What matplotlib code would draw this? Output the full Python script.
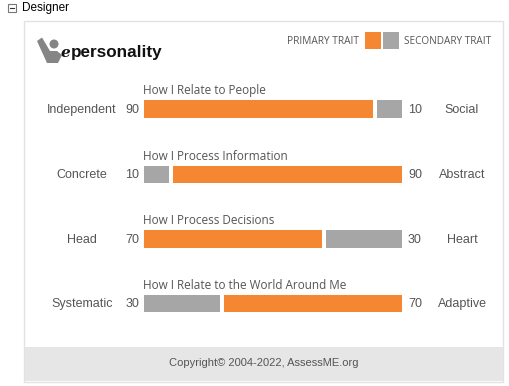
import matplotlib
matplotlib.use("Agg")
import matplotlib.pyplot as plt
from matplotlib.patches import Rectangle, Polygon, Circle

# ---- data ----
titles = ["How I Relate to People", "How I Process Information",
          "How I Process Decisions", "How I Relate to the World Around Me"]
left_labels = ["Independent", "Concrete", "Head", "Systematic"]
right_labels = ["Social", "Abstract", "Heart", "Adaptive"]
left_values = [90, 10, 70, 30]
right_values = [10, 90, 30, 70]
legend_labels = ["PRIMARY TRAIT", "SECONDARY TRAIT"]

ORANGE = "#f58733"
GRAY = "#a6a6a6"
TXT = "#555555"

W, H = 510, 386
fig = plt.figure(figsize=(W / 100, H / 100), dpi=100)
ax = fig.add_axes([0, 0, 1, 1])
ax.set_xlim(0, W)
ax.set_ylim(H, 0)
ax.axis("off")

# header
ax.add_patch(Rectangle((8, 4), 8, 8, fill=False, ec="#777777", lw=0.8))
ax.plot([10, 14], [8, 8], color="#333333", lw=0.8)
ax.text(22, 8, "Designer", fontsize=8.5, family="Liberation Sans", color="#000000",
        va="center", ha="left")

# panel
ax.add_patch(Rectangle((24.5, 20.5), 479, 361, fill=False, ec="#e2e2e2", lw=1))
ax.add_patch(Rectangle((25, 347), 478, 34, fc="#e6e6e6", ec="none"))
ax.text(263.5, 363, "Copyright\u00a9 2004-2022, AssessME.org", fontsize=8,
        family="Liberation Sans", color=TXT, ha="center", va="center")

# logo
ax.add_patch(Polygon([(37, 41), (42, 37.5), (50, 51), (57, 51), (62, 55), (58, 63), (47, 63)],
                     closed=True, fc="#858585", ec="none"))
ax.add_patch(Circle((54, 44), 4.5, fc="#858585", ec="none"))
ax.text(60.5, 53, "e", fontsize=11, style="italic", weight="bold", family="DejaVu Serif",
        color="#111111", va="center", ha="left")
ax.text(70.5, 52.5, "personality", fontsize=12.3, weight="bold", family="Liberation Sans",
        color="#111111", va="center", ha="left")

# legend
ax.text(359, 41, legend_labels[0], fontsize=7.3, family="Open Sans", color=TXT,
        ha="right", va="center")
ax.add_patch(Rectangle((365, 32), 16.5, 17, fc=ORANGE, ec="none"))
ax.add_patch(Rectangle((383, 32), 16.5, 17, fc=GRAY, ec="none"))
ax.text(404, 41, legend_labels[1], fontsize=7.2, family="Open Sans", color=TXT,
        ha="left", va="center")

# bars
x0, track, gap = 144, 258, 4
bar_h = 17.5
row_c = [109, 174.5, 239, 303.5]
for i in range(4):
    yc = row_c[i]
    lv, rv = left_values[i], right_values[i]
    tot = lv + rv
    lw = (track - gap) * lv / tot
    rw = (track - gap) * rv / tot
    lc = ORANGE if lv >= rv else GRAY
    rc = ORANGE if rv > lv else GRAY
    ax.barh(yc, lw, height=bar_h, left=x0, color=lc)
    ax.barh(yc, rw, height=bar_h, left=x0 + lw + gap, color=rc)
    ax.text(143, yc - 14.8, titles[i], fontsize=8.5, family="Open Sans", color=TXT,
            ha="left", va="baseline")
    ty = yc + 0.7
    ax.text(82, ty, left_labels[i], fontsize=9, family="Liberation Sans", color=TXT,
            ha="center", va="center")
    ax.text(139, ty, str(lv), fontsize=9, family="Liberation Sans", color=TXT,
            ha="right", va="center")
    ax.text(408, ty, str(rv), fontsize=9, family="Liberation Sans", color=TXT,
            ha="left", va="center")
    ax.text(462, ty, right_labels[i], fontsize=9, family="Liberation Sans", color=TXT,
            ha="center", va="center")

fig.savefig("out.png", dpi=100)
